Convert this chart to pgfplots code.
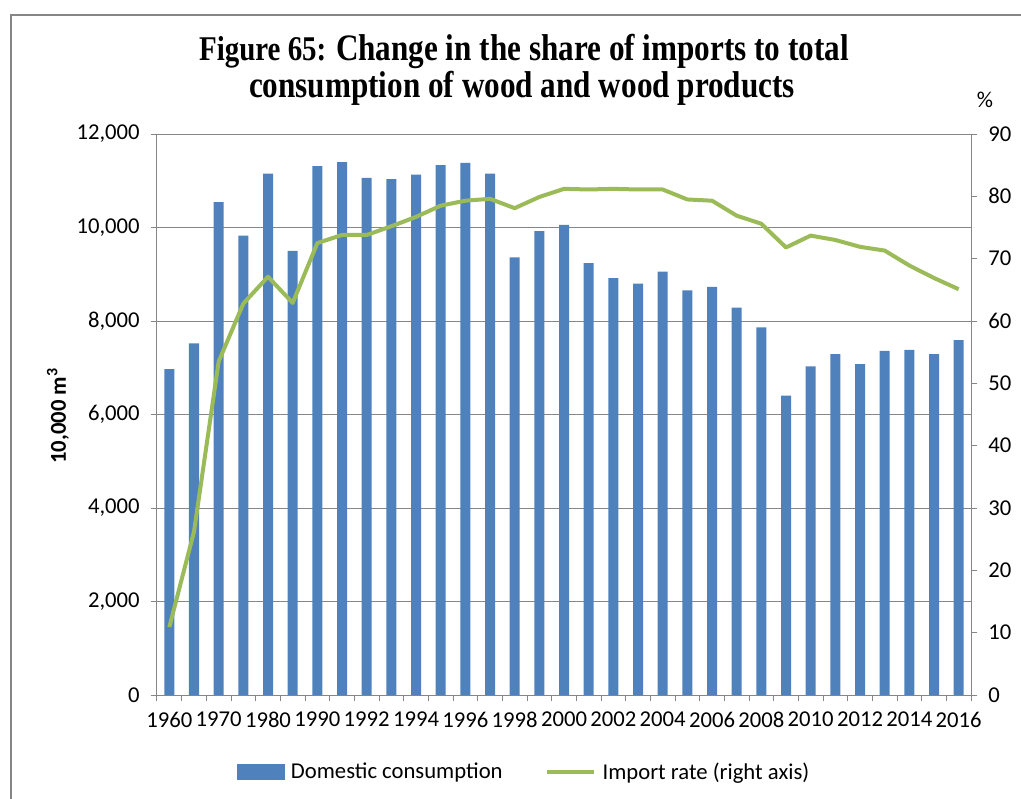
\documentclass[border=0pt]{standalone}
\usepackage{pgfplots}
\pgfplotsset{compat=1.18}
\usepackage{pgfplotstable}
\usepackage{graphicx}
\usepackage{fontspec}
\setmainfont{Carlito}
\newfontfamily\titlefont{Liberation Serif}
\definecolor{barblue}{HTML}{4F81BD}
\definecolor{linegreen}{HTML}{9BBB59}
\definecolor{axgray}{HTML}{868686}
\pgfplotstableread{
idx val rate
0 6970 10.9
1 7520 26.2
2 10545 53.5
3 9825 62.8
4 11150 67.1
5 9500 62.9
6 11315 72.5
7 11400 73.8
8 11060 73.8
9 11035 75.2
10 11130 76.7
11 11335 78.5
12 11380 79.3
13 11150 79.6
14 9360 78.1
15 9920 79.9
16 10055 81.2
17 9240 81.1
18 8915 81.2
19 8800 81.1
20 9055 81.1
21 8655 79.5
22 8730 79.3
23 8285 76.9
24 7865 75.6
25 6405 71.8
26 7030 73.7
27 7290 73.0
28 7075 71.9
29 7360 71.3
30 7380 68.9
31 7290 66.9
32 7590 65.1
}\datatable
\begin{document}
\begin{tikzpicture}[x=0.75pt,y=-0.75pt]
\useasboundingbox (0,0) rectangle (1021,799);
\draw[axgray, line width=1.6pt] (11,799) -- (11,15) -- (1021,15);
\pgfplotsset{
  common/.style={
    at={(117.75pt,-521.25pt)}, anchor=south west,
    scale only axis, width=610.5pt, height=420.75pt,
    xmin=-0.5, xmax=32.5,
    axis line style={axgray, line width=0.75pt, -},
    tick style={axgray, line width=0.75pt},
    tick align=outside,
    major tick length=4.5pt, minor tick length=4.5pt,
    every tick label/.append style={font=\fontsize{17}{20}\selectfont, text=black},
    /pgf/number format/assume math mode=true,
  }
}
\begin{axis}[common,
  ymin=0, ymax=12000,
  ytick={0,2000,...,12000},
  scaled y ticks=false,
  /pgf/number format/1000 sep={,},
  yticklabel style={/tikz/xshift=-5pt},
  axis x line*=bottom, axis y line*=left,
  ymajorgrids, grid style={axgray, line width=0.75pt},
  xtick={0,2,...,32},
  xticklabels={1960,1970,1980,1990,1992,1994,1996,1998,2000,2002,2004,2006,2008,2010,2012,2014,2016},
  major x tick style={draw=none},
  minor xtick={-0.5,0.5,...,32.5},
  xticklabel style={/tikz/yshift=-4.5pt},
]
\addplot[ybar, bar width=7.5pt, fill=barblue, draw=none] table[x=idx, y=val] {\datatable};
\end{axis}
\begin{axis}[common,
  ymin=0, ymax=90,
  ytick={0,10,...,90},
  yticklabel style={/tikz/xshift=5pt},
  axis y line*=right, axis x line=none,
  legend style={at={(0.4515,-0.137)}, anchor=center, draw=none, fill=none,
    font=\fontsize{17}{20}\selectfont, legend columns=2,
    /tikz/every odd column/.append style={column sep=3pt},
    /tikz/every even column/.append style={column sep=30pt}},
  legend cell align=left,
]
\addlegendimage{legend image code/.code={\fill[barblue] (0pt,-5.5pt) rectangle (35pt,5.5pt);}}
\addlegendentry{Domestic consumption}
\addplot[linegreen, line width=3pt, line join=round, mark=none,
  legend image code/.code={\draw[linegreen, line width=3pt] (0pt,0pt) -- (35pt,0pt);}]
  table[x=idx, y=rate] {\datatable};
\addlegendentry{Import rate (right axis)}
\end{axis}
\node[anchor=base, inner sep=0] at (524,61) {\scalebox{0.835}[1]{\titlefont\bfseries\fontsize{26}{28}\selectfont Figure 65: \fontsize{28}{28}\selectfont Change in the share of imports to total}};
\node[anchor=base, inner sep=0] at (522,98) {\scalebox{0.835}[1]{\titlefont\bfseries\fontsize{28}{28}\selectfont consumption of wood and wood products}};
\node[anchor=base, inner sep=0, font=\fontsize{17}{20}\selectfont] at (985,108) {\%};
\node[rotate=90, inner sep=0, font=\bfseries\fontsize{17}{20}\selectfont] at (58,416) {10,000 m\textsuperscript{3}};
\end{tikzpicture}
\end{document}
